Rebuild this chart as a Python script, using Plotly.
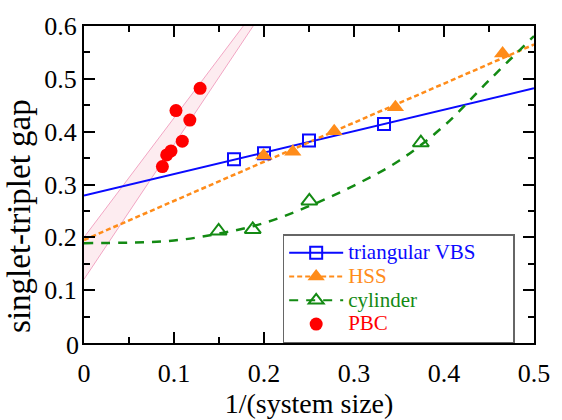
import plotly.graph_objects as go

# ---------------- data ----------------
vbs_x = [1/6, 0.2, 0.25, 1/3]
vbs_y = [0.348, 0.359, 0.3835, 0.4147]

hss_x = [0.1996, 0.232, 0.278, 0.346, 0.4651]
hss_y = [0.355, 0.362, 0.401, 0.446, 0.548]

cyl_x = [0.1496, 0.1875, 0.2504, 0.3743]
cyl_y = [0.212, 0.215, 0.269, 0.379]

pbc_x = [0.0871, 0.0919, 0.0967, 0.1022, 0.1092, 0.1176, 0.129]
pbc_y = [0.334, 0.356, 0.3635, 0.440, 0.382, 0.422, 0.482]

# fit curves
vbs_fit_x = [0.0, 0.5]
vbs_fit_y = [0.279, 0.482]
hss_fit_x = [0.0, 0.5]
hss_fit_y = [0.195, 0.565]
cyl_fit_x = [0.0, 0.05, 0.1, 0.15, 0.2, 0.25, 0.3, 0.35, 0.4, 0.45, 0.5]
cyl_fit_y = [0.189, 0.190, 0.194, 0.207, 0.227, 0.259, 0.298, 0.345, 0.411, 0.497, 0.581]

# PBC extrapolation band (lower edge, upper edge)
band_lower_x = [0.0, 0.188]
band_lower_y = [0.1206, 0.6]
band_upper_x = [0.0, 0.177]
band_upper_y = [0.200, 0.6]

x_ticks = [0, 0.1, 0.2, 0.3, 0.4, 0.5]
x_ticktext = ["0", "0.1", "0.2", "0.3", "0.4", "0.5"]
y_ticks = [0, 0.1, 0.2, 0.3, 0.4, 0.5, 0.6]
y_ticktext = ["0", "0.1", "0.2", "0.3", "0.4", "0.5", "0.6"]

names = ["triangular VBS", "HSS", "cylinder", "PBC"]

# ---------------- styles ----------------
FONT = "Liberation Serif"
BLUE = "#0a0aff"
ORANGE = "#ff8c1a"
GREEN = "#138a13"
RED = "#ff0000"
PINK_LINE = "#f2a6c4"
PINK_FILL = "rgba(245,170,185,0.22)"

fig = go.Figure()

# band polygon
fig.add_trace(go.Scatter(
    x=band_lower_x + band_upper_x[::-1] + [band_lower_x[0]],
    y=band_lower_y + band_upper_y[::-1] + [band_lower_y[0]],
    mode="lines", fill="toself", fillcolor=PINK_FILL,
    line=dict(color="rgba(0,0,0,0)", width=0),
    showlegend=False, hoverinfo="skip"))
fig.add_trace(go.Scatter(x=band_lower_x, y=band_lower_y, mode="lines",
                         line=dict(color=PINK_LINE, width=1), showlegend=False))
fig.add_trace(go.Scatter(x=band_upper_x, y=band_upper_y, mode="lines",
                         line=dict(color=PINK_LINE, width=1), showlegend=False))

# fit lines
fig.add_trace(go.Scatter(x=vbs_fit_x, y=vbs_fit_y, mode="lines",
                         line=dict(color=BLUE, width=2), showlegend=False))
fig.add_trace(go.Scatter(x=hss_fit_x, y=hss_fit_y, mode="lines",
                         line=dict(color=ORANGE, width=2.5, dash="5px,3px"), showlegend=False))
fig.add_trace(go.Scatter(x=cyl_fit_x, y=cyl_fit_y, mode="lines",
                         line=dict(color=GREEN, width=2.5, dash="9px,8px", shape="spline"),
                         showlegend=False))

# data markers
fig.add_trace(go.Scatter(x=vbs_x, y=vbs_y, mode="markers", showlegend=False,
                         marker=dict(symbol="square-open", size=12, color=BLUE,
                                     line=dict(width=2, color=BLUE))))
fig.add_trace(go.Scatter(x=hss_x, y=hss_y, mode="markers", showlegend=False,
                         marker=dict(symbol="triangle-up", size=15, color=ORANGE)))
fig.add_trace(go.Scatter(x=cyl_x, y=cyl_y, mode="markers", showlegend=False,
                         marker=dict(symbol="triangle-up-open", size=14, color=GREEN,
                                     line=dict(width=2, color=GREEN))))
fig.add_trace(go.Scatter(x=pbc_x, y=pbc_y, mode="markers", showlegend=False,
                         marker=dict(symbol="circle", size=13, color=RED)))

# legend proxies
def lbl(t, c, pad=""):
    return '<span style="font-size:21px;color:%s">%s</span>%s' % (c, t, pad)

fig.add_trace(go.Scatter(x=[None], y=[None], mode="lines+markers",
                         name=lbl(names[0], BLUE, "\u00a0" * 8),
                         line=dict(color=BLUE, width=2),
                         marker=dict(symbol="square-open", size=12, color=BLUE,
                                     line=dict(width=2, color=BLUE))))
fig.add_trace(go.Scatter(x=[None], y=[None], mode="lines+markers", name=lbl(names[1], ORANGE),
                         line=dict(color=ORANGE, width=2, dash="5px,3px"),
                         marker=dict(symbol="triangle-up", size=15, color=ORANGE)))
fig.add_trace(go.Scatter(x=[None], y=[None], mode="lines+markers", name=lbl(names[2], GREEN),
                         line=dict(color=GREEN, width=2, dash="9px,8px"),
                         marker=dict(symbol="triangle-up-open", size=13, color=GREEN,
                                     line=dict(width=2, color=GREEN))))
fig.add_trace(go.Scatter(x=[None], y=[None], mode="markers", name=lbl(names[3], RED),
                         marker=dict(symbol="circle", size=13, color=RED)))

axis_common = dict(
    showline=True, linecolor="black", linewidth=2, mirror="ticks",
    ticks="inside", ticklen=11, tickwidth=1.5, tickcolor="black",
    showgrid=False, zeroline=False,
    tickfont=dict(family=FONT, size=26, color="black"),
)

fig.update_layout(
    width=562, height=420,
    margin=dict(l=84, r=25, t=20, b=60),
    paper_bgcolor="white", plot_bgcolor="white",
    font=dict(family=FONT, color="black"),
    xaxis=dict(range=[0, 0.5], tickvals=x_ticks, ticktext=x_ticktext,
               ticklabelstandoff=6,
               minor=dict(ticks="inside", dtick=0.05, ticklen=6, tickwidth=1.5, tickcolor="black"),
               title=dict(text="1/(system size)", font=dict(family=FONT, size=28), standoff=0),
               **axis_common),
    yaxis=dict(range=[0, 0.6], tickvals=y_ticks[1:], ticktext=y_ticktext[1:],
               minor=dict(ticks="inside", dtick=0.05, ticklen=6, tickwidth=1.5, tickcolor="black"),
               **axis_common),
    legend=dict(x=0.4415, y=0.343, xanchor="left", yanchor="top",
                bgcolor="white", bordercolor="#666666", borderwidth=1.5,
                font=dict(family=FONT, size=16), itemwidth=54,
                tracegroupgap=0),
    showlegend=True,
)

# y-axis title and the shifted "0" label of the y axis
fig.add_annotation(text="singlet-triplet gap", textangle=-90, showarrow=False,
                   xref="paper", yref="paper", x=-0.145, y=0.40,
                   xanchor="center", yanchor="middle",
                   font=dict(family=FONT, size=33, color="black"))
fig.add_annotation(text=y_ticktext[0], showarrow=False,
                   xref="paper", yref="y", x=0, y=y_ticks[0], xanchor="right", yanchor="middle",
                   xshift=-3, yshift=-2, font=dict(family=FONT, size=26, color="black"))

fig.write_html("out.html")
